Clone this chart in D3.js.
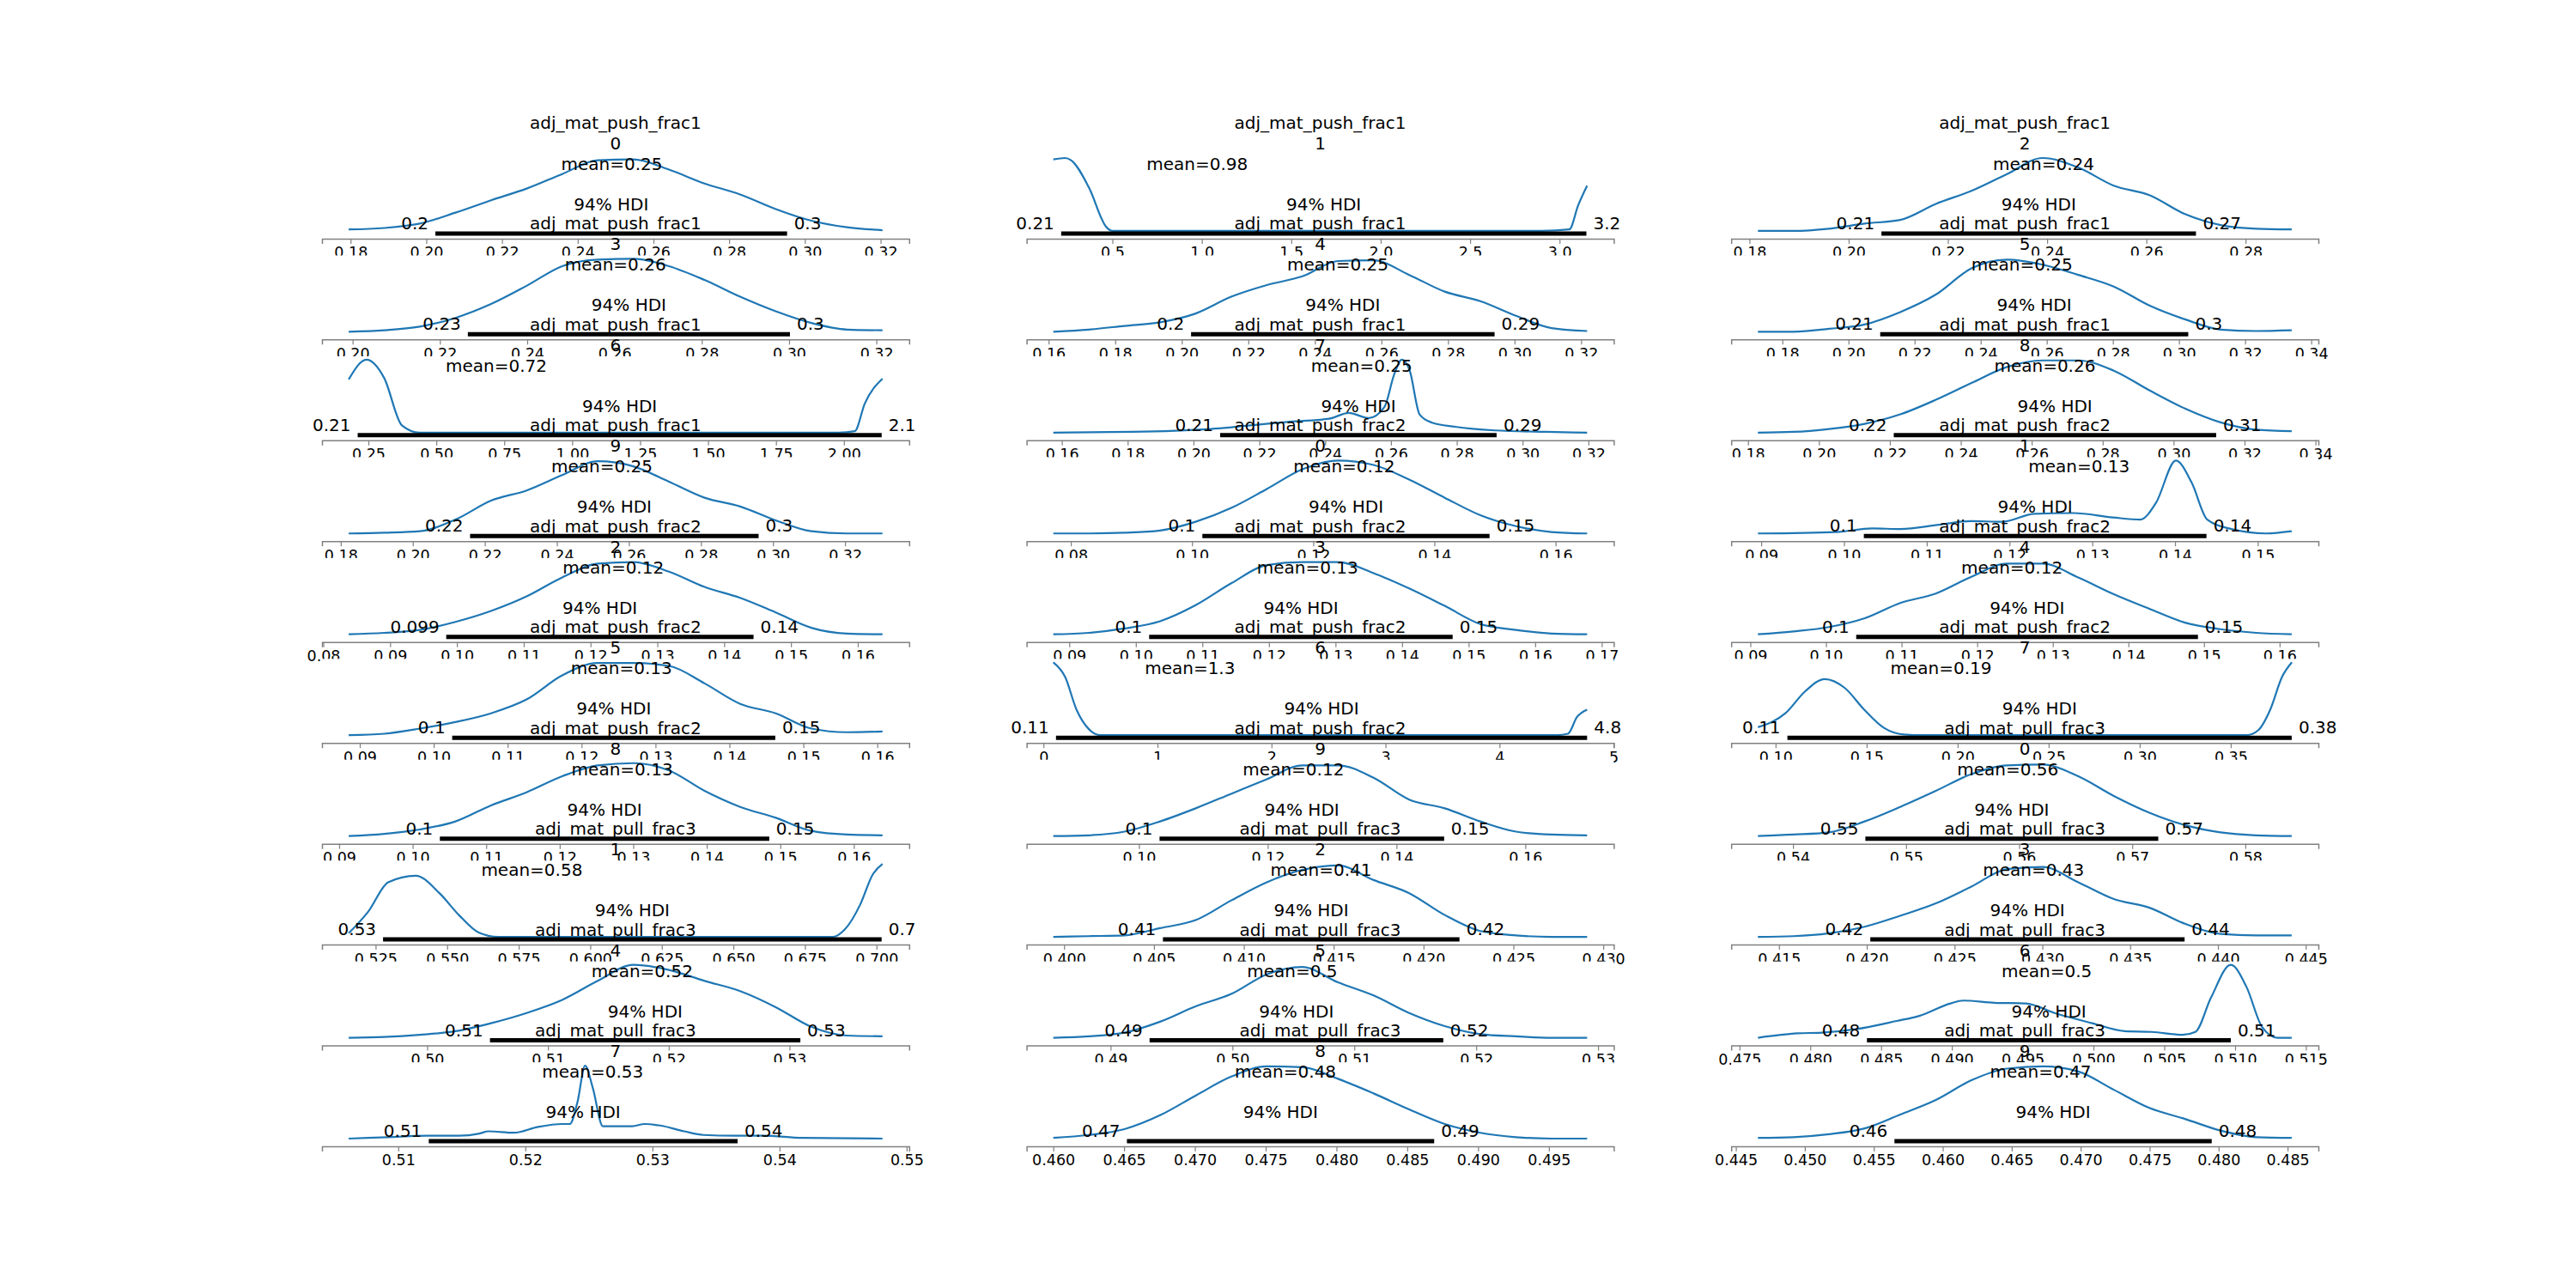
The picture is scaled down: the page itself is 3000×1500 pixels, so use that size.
<!DOCTYPE html>
<html><head><meta charset="utf-8">
<script src="https://cdn.jsdelivr.net/npm/d3@7"></script>
<style>body{margin:0;background:#fff}text{font-family:"DejaVu Sans",sans-serif}</style>
</head><body>
<svg id="c" width="3000" height="1500"></svg>
<script>
const P1="adj_mat_push_frac1",P2="adj_mat_push_frac2",P3="adj_mat_pull_frac3";
const varNames=[P1,P1,P1,P1,P1,P1,P1,P1,P1,P1,P2,P2,P2,P2,P2,P2,P2,P2,P2,P2,P3,P3,P3,P3,P3,P3,P3,P3,P3,P3];
const varIndex=[0,1,2,3,4,5,6,7,8,9,0,1,2,3,4,5,6,7,8,9,0,1,2,3,4,5,6,7,8,9];
const meanVals=[0.249,0.974,0.2393,0.2602,0.2469,0.2525,0.721,0.2511,0.2637,0.2525,0.1251,0.1284,0.1234,0.1258,0.1246,0.1254,1.285,0.1909,0.1285,0.124,0.559,0.5796,0.4143,0.4295,0.5178,0.5049,0.4967,0.5253,0.4764,0.4671];
const meanLabels=["0.25","0.98","0.24","0.26","0.25","0.25","0.72","0.25","0.26","0.25","0.12","0.13","0.12","0.13","0.12","0.13","1.3","0.19","0.13","0.12","0.56","0.58","0.41","0.43","0.52","0.5","0.5","0.53","0.48","0.47"];
const hdiLo=[0.2024,0.2137,0.2066,0.2264,0.2028,0.2096,0.2106,0.2081,0.2211,0.2159,0.1017,0.1024,0.0984,0.102,0.104,0.1025,0.11,0.1065,0.1037,0.1032,0.5464,0.5276,0.4055,0.4202,0.5052,0.4932,0.484,0.5124,0.4652,0.4565];
const hdiHi=[0.2953,3.150,0.27,0.3002,0.294,0.3028,2.139,0.2921,0.312,0.296,0.1491,0.1438,0.1444,0.1476,0.1492,0.1462,4.768,0.3835,0.1485,0.1474,0.5723,0.7018,0.422,0.4381,0.5309,0.5173,0.5097,0.5367,0.4869,0.4795];
const hdiLoLabels=["0.2","0.21","0.21","0.23","0.2","0.21","0.21","0.21","0.22","0.22","0.1","0.1","0.099","0.1","0.1","0.1","0.11","0.11","0.1","0.1","0.55","0.53","0.41","0.42","0.51","0.49","0.48","0.51","0.47","0.46"];
const hdiHiLabels=["0.3","3.2","0.27","0.3","0.29","0.3","2.1","0.29","0.31","0.3","0.15","0.14","0.14","0.15","0.15","0.15","4.8","0.38","0.15","0.15","0.57","0.7","0.42","0.44","0.53","0.52","0.51","0.54","0.49","0.48"];
const kdeRange=[[0.1795,0.3205],[0.1696,3.154],[0.1817,0.2893],[0.1991,0.3214],[0.1614,0.3218],[0.1726,0.3341],[0.1775,2.142],[0.1574,0.3196],[0.1828,0.3333],[0.1822,0.3304],
[0.0771,0.1652],[0.0896,0.1541],[0.0838,0.1637],[0.0876,0.1678],[0.091,0.1616],[0.0885,0.1607],[0.0864,4.768],[0.0903,0.3835],[0.0913,0.1639],[0.0867,0.1696],
[0.5369,0.5841],[0.5156,0.7021],[0.3994,0.4291],[0.4138,0.4442],[0.4935,0.5377],[0.4853,0.5291],[0.4763,0.514],[0.5061,0.5481],[0.46,0.4977],[0.4466,0.4853]];
// evenly spaced densities (relative to panel peak) across kdeRange, or null when given as [x, d] pairs
const densEven=[
[.02,.04,.10,.25,.42,.58,.78,.97,.98,.84,.65,.50,.30,.14,.05,.01],
null,
[0,0,.03,.1,.15,.37,.55,.78,1,.87,.62,.49,.23,.08,.03,.02],
[0,.02,.07,.19,.38,.63,.9,.99,1,.9,.71,.48,.28,.12,.03,.02],
[0,.03,.08,.13,.25,.48,.64,.76,.97,.98,.78,.55,.42,.22,.05,.01],
[0,0,.04,.1,.27,.51,.87,.99,.92,.78,.62,.36,.17,.03,.01,.02],
null,null,
[0,.01,.05,.12,.25,.45,.68,.9,.99,.99,.85,.58,.33,.14,.04,.02],
[0,.01,.03,.19,.45,.59,.8,.99,.92,.71,.49,.37,.18,.03,0,0],
[0,0,.01,.04,.16,.35,.61,.88,1,.94,.74,.49,.25,.1,.02,0],
null,
[0,.02,.06,.17,.32,.52,.78,.97,.99,.86,.65,.5,.3,.09,.01,0],
[0,.02,.08,.18,.4,.7,.95,.99,.99,.84,.63,.39,.14,.06,.01,0],
[0,.04,.1,.22,.43,.56,.79,.97,.97,.78,.55,.35,.16,.07,.02,0],
[0,.02,.09,.18,.3,.49,.82,.99,.99,.95,.71,.43,.3,.09,.04,.05],
null,null,
[0,.03,.09,.2,.42,.6,.82,.97,1,.9,.62,.4,.25,.07,.02,.01],
[0,.01,.06,.2,.38,.58,.78,.97,.97,.8,.5,.38,.2,.06,.02,.01],
[0,.02,.05,.2,.4,.62,.85,.97,.98,.82,.55,.32,.15,.05,.01,0],
null,
[0,.01,.02,.12,.23,.5,.75,.92,.98,.78,.6,.3,.08,.02,0,0],
[0,.01,.05,.14,.29,.46,.69,.93,.96,.75,.52,.4,.18,.04,.02,.02],
[0,.01,.04,.09,.2,.34,.52,.78,1,.93,.78,.64,.42,.15,.03,.02],
[0,.02,.07,.22,.43,.6,.87,.97,.76,.58,.34,.16,.05,.02,0,0],
null,null,
[.01,.05,.13,.32,.59,.85,.99,.98,.82,.62,.4,.2,.08,.02,0,0],
[.01,.02,.06,.14,.33,.53,.8,.96,.99,.92,.67,.42,.27,.11,.02,.01]];
const densPairs={
1:[[0.1696,.98],[0.2357,1],[0.2687,.97],[0.3678,.6],[0.4669,.05],[0.5,0],[2.9,0],[3.055,.02],[3.104,.35],[3.154,.62]],
6:[[0.1775,.73],[0.2427,1],[0.3080,.75],[0.3732,.1],[0.4384,0],[1.98,0],[2.04,.02],[2.077,.4],[2.142,.74]],
7:[[0.1574,0],[0.1813,.01],[0.2053,.05],[0.2292,.15],[0.2412,.19],[0.2472,.27],[0.2532,.2],[0.258,.35],[0.261,.8],[0.2633,1],[0.2657,.85],[0.2687,.25],[0.2723,.14],[0.2795,.08],[0.2915,.03],[0.3071,.01],[0.3196,0]],
11:[[0.0896,0],[0.0991,.02],[0.1034,.07],[0.1068,.06],[0.1115,.12],[0.1153,.17],[0.1191,.16],[0.123,.27],[0.1277,.28],[0.1325,.22],[0.1358,.19],[0.1377,.42],[0.1401,1],[0.142,.7],[0.1439,.19],[0.1468,.06],[0.151,0],[0.1541,.03]],
16:[[0.0864,1],[0.19,.8],[0.29,.35],[0.4,.08],[0.5,0],[4.5,0],[4.6,.02],[4.68,.25],[4.768,.35]],
17:[[0.0903,.11],[0.1054,.3],[0.1162,.6],[0.127,.77],[0.1379,.65],[0.1487,.35],[0.1595,.1],[0.1703,.01],[0.1812,0],[0.3587,0],[0.3652,.07],[0.3717,.35],[0.3782,.8],[0.3836,1]],
21:[[0.5156,.05],[0.5225,.35],[0.5294,.75],[0.539,.84],[0.5473,.6],[0.5541,.3],[0.561,.06],[0.5679,0],[0.6848,0],[0.6889,.1],[0.6944,.45],[0.6986,.85],[0.7021,1]],
26:[[0.4763,0],[0.4791,.06],[0.4808,.07],[0.4833,.12],[0.4861,.23],[0.4877,.3],[0.4899,.47],[0.4908,.51],[0.493,.48],[0.4952,.47],[0.4974,.33],[0.4999,.2],[0.5022,.09],[0.5041,.08],[0.5063,.04],[0.5072,.08],[0.5083,.55],[0.5097,1],[0.5108,.7],[0.5119,.15],[0.513,0],[0.514,0]],
27:[[0.5061,0],[0.5092,.02],[0.5123,.04],[0.5148,.04],[0.5164,.07],[0.5171,.1],[0.5191,.08],[0.521,.16],[0.5229,.2],[0.5235,.2],[0.5241,.5],[0.5247,1],[0.5253,.7],[0.5261,.17],[0.5284,.17],[0.5294,.2],[0.5306,.18],[0.5325,.1],[0.534,.05],[0.5365,.04],[0.5387,.04],[0.5418,.01],[0.5481,0]]};
const tickSteps=[0.02,0.5,0.02,0.02,0.02,0.02,0.25,0.02,0.02,0.02,0.02,0.01,0.01,0.01,0.01,0.01,1,0.05,0.01,0.02,0.01,0.025,0.005,0.005,0.01,0.01,0.005,0.01,0.005,0.005];
const tickDecimals=[2,1,2,2,2,2,2,2,2,2,2,2,2,2,2,2,0,2,2,2,2,3,3,3,2,2,3,2,3,3];

const svg=d3.select("#c");
const nCols=3,L=375,R=2700,Top=180,Bot=1335;
const aw=(R-L)/(nCols+0.2*(nCols-1)), ah=(Bot-Top)/(10+0.2*9);
const blue="#1f77b4";
varNames.forEach((nm,i)=>{
  const r=Math.floor(i/3),c=i%3;
  const x0=L+c*aw*1.2, T=Top+r*ah*1.2, B=T+ah;
  const [lo,hi]=kdeRange[i], pad=(hi-lo)*0.05;
  const x=d3.scaleLinear([lo-pad,hi+pad],[x0,x0+aw]);
  const y=d3.scaleLinear([0,1],[B-9,T+4]);
  const g=svg.append("g");
  g.append("rect").attr("x",x0).attr("y",T).attr("width",aw).attr("height",ah).attr("fill","#fff");
  let pts;
  if(densEven[i]){const d=densEven[i];pts=d.map((v,k)=>[lo+k/(d.length-1)*(hi-lo),v]);}
  else pts=densPairs[i];
  g.append("path").attr("d",d3.line().x(p=>x(p[0])).y(p=>y(p[1])).curve(d3.curveMonotoneX)(pts))
   .attr("fill","none").attr("stroke",blue).attr("stroke-width",2.2);
  // axis
  const st=tickSteps[i],dom=x.domain();
  const ticks=d3.range(Math.ceil(dom[0]/st-1e-9),Math.floor(dom[1]/st+1e-9)+1).map(k=>k*st);
  const ax=d3.axisBottom(x).tickValues(ticks).tickFormat(d3.format("."+tickDecimals[i]+"f")).tickSizeOuter(0).tickSize(6).tickPadding(4);
  const ag=g.append("g").attr("transform",`translate(0,${B})`).call(ax);
  ag.select(".domain").attr("stroke","#808080").attr("stroke-width",1.5);
  ag.selectAll(".tick line").attr("stroke","#808080").attr("stroke-width",1.2);
  ag.selectAll(".tick text").attr("fill","#000").style("font-size","17.5px").style("font-family","DejaVu Sans");
  // HDI
  const hy=B-6;
  g.append("line").attr("x1",x(hdiLo[i])).attr("x2",x(hdiHi[i])).attr("y1",hy).attr("y2",hy).attr("stroke","#000").attr("stroke-width",5);
  g.append("text").attr("x",x(hdiLo[i])-8).attr("y",B-11).attr("text-anchor","end").style("font-size","20px").text(hdiLoLabels[i]);
  g.append("text").attr("x",x(hdiHi[i])+8).attr("y",B-11).attr("text-anchor","start").style("font-size","20px").text(hdiHiLabels[i]);
  g.append("text").attr("x",x((hdiLo[i]+hdiHi[i])/2)).attr("y",T+65).attr("text-anchor","middle").style("font-size","20px").text("94% HDI");
  g.append("text").attr("x",x(meanVals[i])).attr("y",T+18).attr("text-anchor","middle").style("font-size","20px").text("mean="+meanLabels[i]);
  // title
  g.append("text").attr("x",x0+aw/2).attr("y",T-30).attr("text-anchor","middle").style("font-size","20px").text(nm);
  g.append("text").attr("x",x0+aw/2).attr("y",T-6).attr("text-anchor","middle").style("font-size","20px").text(varIndex[i]);
});
</script>
</body></html>
